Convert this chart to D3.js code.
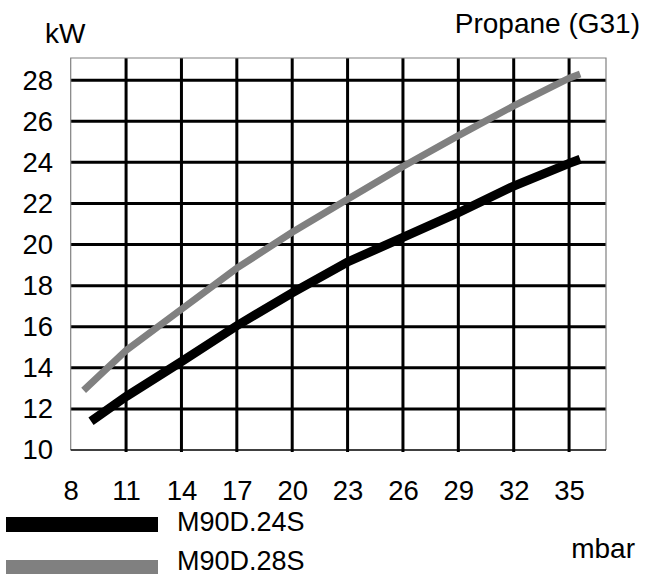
<!DOCTYPE html>
<html><head><meta charset="utf-8">
<script src="https://cdn.jsdelivr.net/npm/d3@7"></script>
<style>body{margin:0;background:#fff}svg{display:block}text{font-family:"Liberation Sans",Arial,Helvetica,sans-serif;fill:#000}</style>
</head><body>
<script>
const xTicks = [8, 11, 14, 17, 20, 23, 26, 29, 32, 35];
const yTicks = [10, 12, 14, 16, 18, 20, 22, 24, 26, 28];
const seriesNames = ["M90D.24S", "M90D.28S"];
const seriesColors = ["#000000", "#808080"];
const m24x = [9.1, 11, 14, 17, 20, 23, 26, 29, 32, 35, 35.6];
const m24y = [11.4, 12.6, 14.3, 16.05, 17.65, 19.15, 20.35, 21.55, 22.85, 23.95, 24.15];
const m28x = [8.7, 11, 14, 17, 20, 23, 26, 29, 32, 35, 35.6];
const m28y = [12.9, 14.85, 16.85, 18.85, 20.6, 22.2, 23.8, 25.3, 26.75, 28.1, 28.3];

const W = 645, H = 576;
const L = 70.7, R = 606, T = 58, B = 450;
const svg = d3.select("body").append("svg").attr("width", W).attr("height", H);
const x = d3.scaleLinear().domain([8, 37]).range([L, R]);
const y = d3.scaleLinear().domain([10, 29.08]).range([B, T]);

// grid
svg.append("g").selectAll("line").data(yTicks.filter(d => d > 10)).join("line")
  .attr("x1", L).attr("x2", R).attr("y1", d => y(d)).attr("y2", d => y(d))
  .attr("stroke", "#000").attr("stroke-width", 3);
svg.append("g").selectAll("line").data(xTicks.filter(d => d > 8)).join("line")
  .attr("x1", d => x(d)).attr("x2", d => x(d)).attr("y1", T).attr("y2", B + 2)
  .attr("stroke", "#000").attr("stroke-width", 3);
// border
svg.append("path").attr("d", `M${L},${B}V${T}H${R}V${B}`).attr("fill", "none")
  .attr("stroke", "#808080").attr("stroke-width", 1.2);
svg.append("line").attr("x1", L).attr("x2", R).attr("y1", B).attr("y2", B)
  .attr("stroke", "#000").attr("stroke-width", 1.5);

// axes labels
const yAxis = d3.axisLeft(y).tickValues(yTicks).tickSize(0).tickPadding(0);
const gy = svg.append("g").attr("transform", `translate(53,0)`).call(yAxis);
gy.select(".domain").remove();
gy.selectAll("text").attr("font-size", 27.5).attr("font-family", "Liberation Sans, Arial, sans-serif").attr("fill", "#000");
const xAxis = d3.axisBottom(x).tickValues(xTicks).tickSize(0).tickPadding(0);
const gx = svg.append("g").attr("transform", `translate(0,480)`).call(xAxis);
gx.select(".domain").remove();
gx.selectAll("text").attr("font-size", 27.5).attr("font-family", "Liberation Sans, Arial, sans-serif").attr("fill", "#000");

// lines
const line = d3.line().x(d => x(d[0])).y(d => y(d[1]));
const d24 = m24x.map((v, i) => [v, m24y[i]]);
const d28 = m28x.map((v, i) => [v, m28y[i]]);
svg.append("path").datum(d28).attr("d", line).attr("fill", "none")
  .attr("stroke", seriesColors[1]).attr("stroke-width", 7);
svg.append("path").datum(d24).attr("d", line).attr("fill", "none")
  .attr("stroke", seriesColors[0]).attr("stroke-width", 9);

// titles
svg.append("text").attr("x", 45).attr("y", 43).attr("font-size", 28).text("kW");
svg.append("text").attr("x", 640).attr("y", 33).attr("text-anchor", "end").attr("font-size", 28).text("Propane (G31)");
svg.append("text").attr("x", 635).attr("y", 558).attr("text-anchor", "end").attr("font-size", 28).text("mbar");

// legend
const leg = svg.append("g");
const legRows = [{top: 517, bot: 532, base: 530.5}, {top: 560, bot: 574, base: 569.5}];
legRows.forEach((r, i) => {
  leg.append("rect").attr("x", 6).attr("y", r.top).attr("width", 152).attr("height", r.bot - r.top).attr("fill", seriesColors[i]);
  leg.append("text").attr("x", 177).attr("y", r.base).attr("font-size", 27).text(seriesNames[i]);
});
</script>
</body></html>
